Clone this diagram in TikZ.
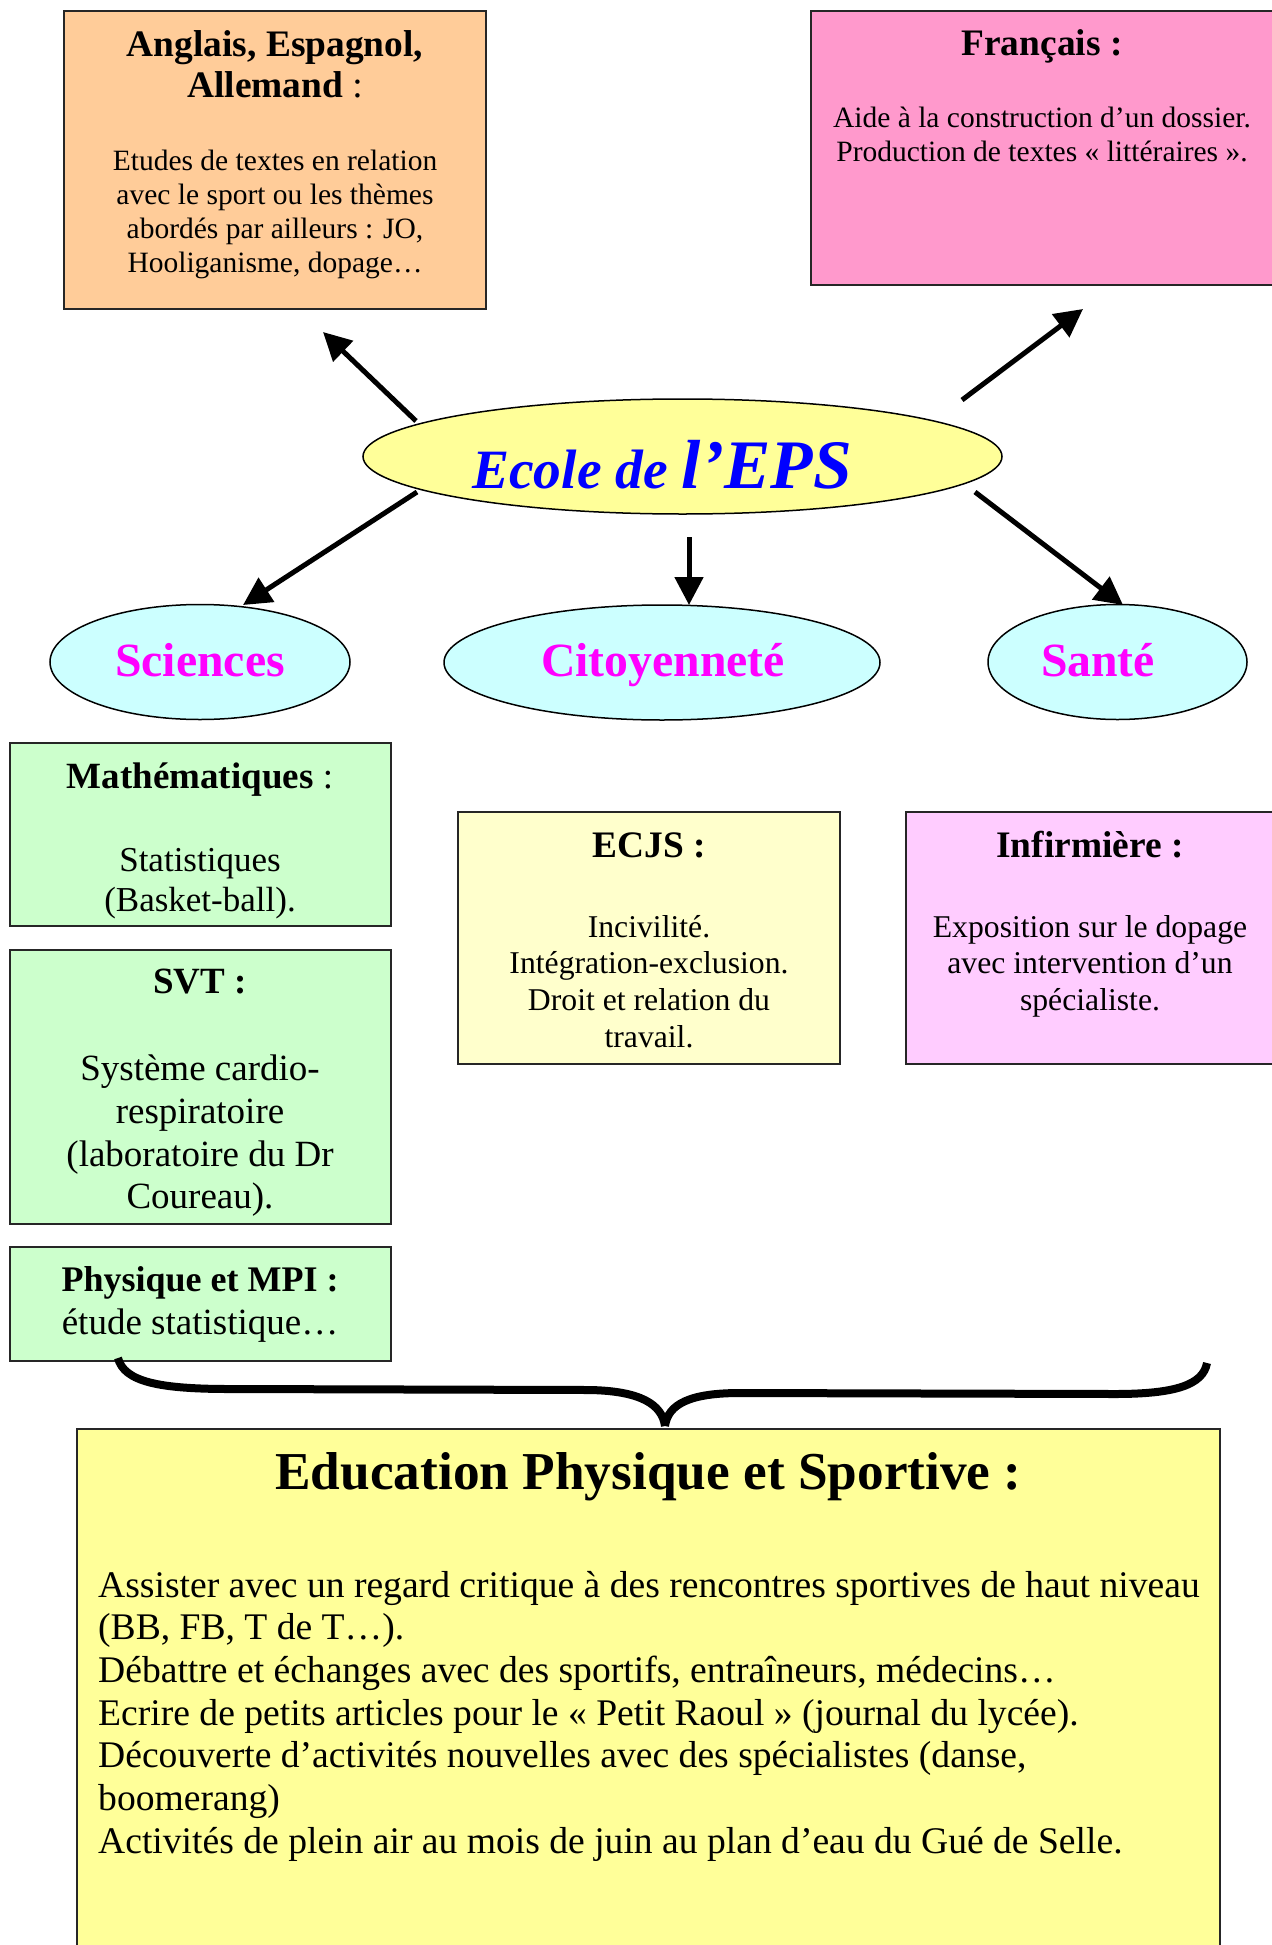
\documentclass[tikz,border=0pt]{standalone}
\usepackage{fontspec}
\setmainfont{Liberation Serif}
\usetikzlibrary{arrows.meta,shapes.geometric}
\definecolor{orangeF}{HTML}{FFCC99}
\definecolor{pinkF}{HTML}{FF99CC}
\definecolor{yellowF}{HTML}{FFFF99}
\definecolor{cyanF}{HTML}{CCFFFF}
\definecolor{greenF}{HTML}{CCFFCC}
\definecolor{ecjsF}{HTML}{FFFFCC}
\definecolor{infF}{HTML}{FFCCFF}
\definecolor{magT}{HTML}{FF00FF}
\definecolor{blueT}{HTML}{0000FF}
\newcommand\myfs[1]{\fontsize{#1pt}{#1pt}\selectfont}
\begin{document}
\begin{tikzpicture}[x=1pt,y=-1pt,
  box/.style={draw=black!85, line width=1.5pt, rectangle, inner sep=0pt},
  oval/.style={draw=black, line width=1.5pt, ellipse, inner sep=0pt},
  ln/.style={anchor=base, inner sep=0pt},
  lnw/.style={anchor=base west, inner sep=0pt},
  arr/.style={line width=5pt, -{Triangle[length=28pt,width=28pt]}},
  ttl/.style={font=\myfs{37.4}\bfseries},
  body/.style={font=\myfs{29.5}},
  epsb/.style={lnw, font=\myfs{37.6}},
  cat/.style={font=\myfs{47.7}\bfseries, text=magT}]
\useasboundingbox (0,0) rectangle (1271,1945);
\fill[white] (0,0) rectangle (1271,1945);

% boxes and ellipses
\node[box, fill=orangeF, minimum width=422pt, minimum height=298pt] (orange) at (275,160) {};
\node[box, fill=pinkF, minimum width=464pt, minimum height=274pt] (francais) at (1043,148) {};
\node[oval, fill=yellowF, minimum width=639pt, minimum height=115pt] (ecole) at (682.5,456.5) {};
\node[oval, fill=cyanF, minimum width=300pt, minimum height=115pt] (sci) at (200,662) {};
\node[oval, fill=cyanF, minimum width=436pt, minimum height=115pt] (cit) at (662,662.5) {};
\node[oval, fill=cyanF, minimum width=259pt, minimum height=115pt] (sante) at (1117.5,662) {};
\node[box, fill=greenF, minimum width=381pt, minimum height=183pt] (math) at (200.5,834.5) {};
\node[box, fill=greenF, minimum width=381pt, minimum height=274pt] (svt) at (200.5,1087) {};
\node[box, fill=greenF, minimum width=381pt, minimum height=114pt] (phys) at (200.5,1304) {};
\node[box, fill=ecjsF, minimum width=382pt, minimum height=252pt] (ecjs) at (649,938) {};
\node[box, fill=infF, minimum width=369pt, minimum height=252pt] (inf) at (1090.5,938) {};
\node[box, fill=yellowF, minimum width=1143pt, minimum height=521pt] (eps) at (648.5,1689.5) {};

% arrows
\coordinate (a1s) at (416,421); \coordinate (a1e) at (323,332);
\coordinate (a2s) at (962,400); \coordinate (a2e) at (1083,309);
\coordinate (a3s) at (417,492); \coordinate (a3e) at (243,605);
\coordinate (a4s) at (689,537); \coordinate (a4e) at (689,605);
\coordinate (a5s) at (975,492); \coordinate (a5e) at (1123,605);
\draw[arr] (a1s) -- (a1e);
\draw[arr] (a2s) -- (a2e);
\draw[arr] (a3s) -- (a3e);
\draw[arr] (a4s) -- (a4e);
\draw[arr] (a5s) -- (a5e);

% brace
\draw[line width=8pt, line cap=butt]
  (118,1358) .. controls (124,1382) and (160,1389) .. (230,1389) -- (590,1390)
  .. controls (640,1391) and (662,1404) .. (665,1426);
\draw[line width=8pt, line cap=butt]
  (665,1426) .. controls (668,1404) and (690,1393) .. (740,1393) -- (1115,1394)
  .. controls (1175,1394) and (1203,1385) .. (1207,1363);

% orange text
\node[ln, ttl] (o1) at (275,57) {Anglais, Espagnol,};
\node[ln, ttl] (o2) at (275,98) {Allemand\mdseries{} :};
\node[ln, body] (o3) at (275,171) {Etudes de textes en relation};
\node[ln, body] (o4) at (275,204.5) {avec le sport ou les thèmes};
\node[ln, body] (o5) at (275,238) {abordés par ailleurs : JO,};
\node[ln, body] (o6) at (275,272) {Hooliganisme, dopage…};

% francais text
\node[ln, ttl] (f1) at (1042,56) {Français :};
\node[ln, body] (f2) at (1042,128) {Aide à la construction d’un dossier.};
\node[ln, body] (f3) at (1042,162) {Production de textes « littéraires ».};

% ecole text
\node[ln, text=blueT, font=\bfseries\itshape] (et) at (662,488)
  {{\myfs{55.5}Ecole de }{\myfs{69.5}l’EPS}};

% category labels
\node[ln, cat] (st) at (200,676) {Sciences};
\node[ln, cat] (ct) at (663,676) {Citoyenneté};
\node[ln, cat] (sat) at (1098,676) {Santé};

% math
\node[ln, font=\myfs{37}\bfseries] (m1) at (200,788) {Mathématiques\mdseries{} :};
\node[ln, font=\myfs{35}] (m2) at (200,871) {Statistiques};
\node[ln, font=\myfs{35}] (m3) at (200,911) {(Basket-ball).};

% svt
\node[ln, font=\myfs{37}\bfseries] (s1) at (200,993) {SVT :};
\node[ln, font=\myfs{37}] (s2) at (200,1080) {Système cardio-};
\node[ln, font=\myfs{37}] (s3) at (200,1123) {respiratoire};
\node[ln, font=\myfs{37}] (s4) at (200,1166) {(laboratoire du Dr};
\node[ln, font=\myfs{37}] (s5) at (200,1208) {Coureau).};

% physique
\node[ln, font=\myfs{36}\bfseries] (p1) at (200,1291) {Physique et MPI :};
\node[ln, font=\myfs{37}] (p2) at (200,1334) {étude statistique…};

% ecjs
\node[ln, ttl] (e1) at (649,857) {ECJS :};
\node[ln, font=\myfs{31.7}] (e2) at (649,937) {Incivilité.};
\node[ln, font=\myfs{31.7}] (e3) at (649,973.5) {Intégration-exclusion.};
\node[ln, font=\myfs{31.7}] (e4) at (649,1010) {Droit et relation du};
\node[ln, font=\myfs{31.7}] (e5) at (649,1047) {travail.};

% infirmiere
\node[ln, ttl] (i1) at (1090,857) {Infirmière :};
\node[ln, font=\myfs{31.7}] (i2) at (1090,937) {Exposition sur le dopage};
\node[ln, font=\myfs{31.7}] (i3) at (1090,973.5) {avec intervention d’un};
\node[ln, font=\myfs{31.7}] (i4) at (1090,1010) {spécialiste.};

% eps
\node[ln, font=\myfs{53.3}\bfseries] (t0) at (648.5,1489) {Education Physique et Sportive :};
\node[epsb] (t1) at (98,1597) {Assister avec un regard critique à des rencontres sportives de haut niveau};
\node[epsb] (t2) at (98,1639.7) {(BB, FB, T de T…).};
\node[epsb] (t3) at (98,1682.4) {Débattre et échanges avec des sportifs, entraîneurs, médecins…};
\node[epsb] (t4) at (98,1725) {Ecrire de petits articles pour le « Petit Raoul » (journal du lycée).};
\node[epsb] (t5) at (98,1767.8) {Découverte d’activités nouvelles avec des spécialistes (danse,};
\node[epsb] (t6) at (98,1810.5) {boomerang)};
\node[epsb] (t7) at (98,1853) {Activités de plein air au mois de juin au plan d’eau du Gué de Selle.};
\end{tikzpicture}
\end{document}
